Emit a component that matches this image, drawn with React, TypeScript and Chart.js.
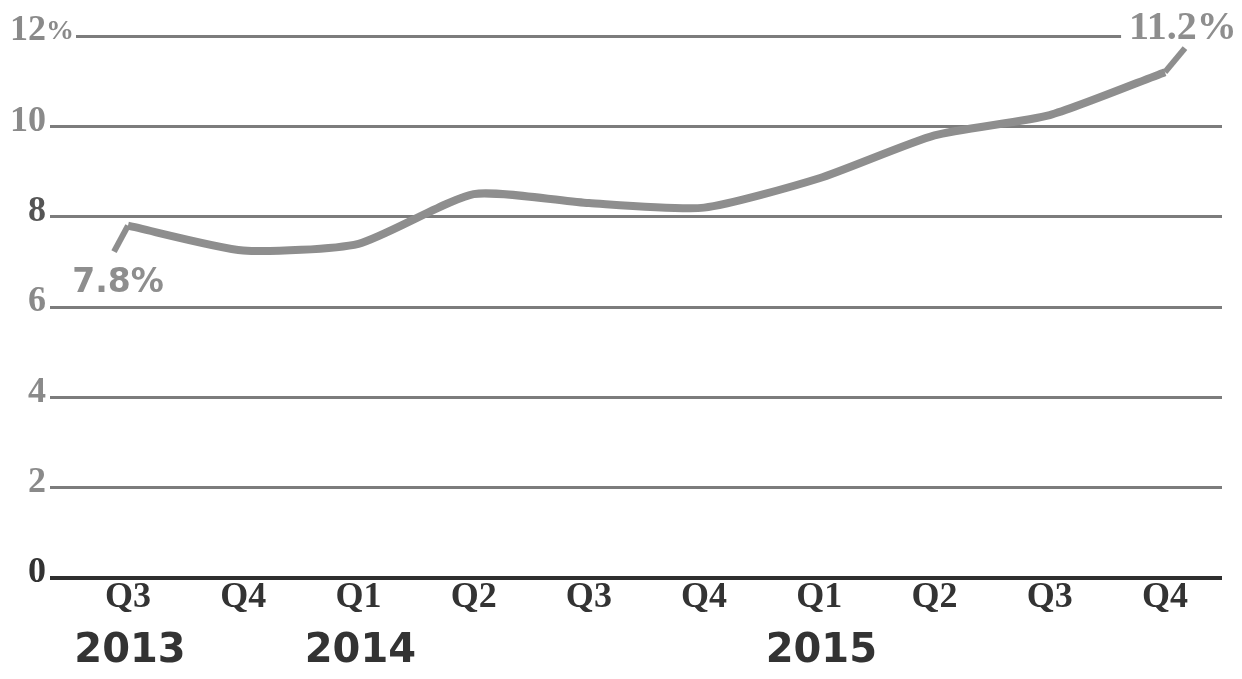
import React, { useEffect, useRef } from "react";
import { Chart, registerables } from "chart.js";

Chart.register(...registerables);

// ---- data ----
const QUARTERS = ["Q3", "Q4", "Q1", "Q2", "Q3", "Q4", "Q1", "Q2", "Q3", "Q4"];
const RATES = [7.8, 7.25, 7.4, 8.5, 8.3, 8.2, 8.85, 9.8, 10.25, 11.2];
const YEAR_LABELS = ["2013", "2014", "2015"];
const YEAR_INDEX = [0, 2, 6];
const Y_TICKS = [0, 2, 4, 6, 8, 10, 12];
const Y_TICK_LABELS = ["0", "2", "4", "6", "8", "10", "12%"];
const FIRST_LABEL = "7.8%";
const LAST_LABEL = "11.2%";

const LINE_COLOR = "#8e8e8e";
const GRID_COLOR = "#7c7c7c";
const ZERO_COLOR = "#2e2e2e";

const labelsPlugin = {
  id: "labelsPlugin",
  afterDraw(chart: any) {
    const ctx = chart.ctx;
    const xs = chart.scales.x;
    const ys = chart.scales.y;
    ctx.save();

    // y tick labels
    ctx.textBaseline = "middle";
    Y_TICKS.forEach((v, i) => {
      const y = ys.getPixelForValue(v) - 5;
      const txt = Y_TICK_LABELS[i];
      ctx.font = 'bold 36px "Liberation Serif", serif';
      ctx.fillStyle = v === 0 ? "#333333" : v === 8 ? "#555555" : "#8a8a8a";
      if (txt.endsWith("%")) {
        ctx.fillStyle = "#ffffff";
        ctx.fillRect(chart.chartArea.left - 2, y - 6, 28, 16);
        ctx.fillStyle = "#8a8a8a";
        ctx.textAlign = "right";
        ctx.fillText(txt.slice(0, -1), 46, y);
        ctx.textAlign = "left";
        ctx.font = 'bold 28px "Liberation Serif", serif';
        ctx.fillText("%", 46, y + 1);
      } else {
        ctx.textAlign = "right";
        ctx.fillText(txt, 46, y);
      }
    });

    // year labels
    ctx.font = 'bold 40px "DejaVu Sans", sans-serif';
    ctx.fillStyle = "#333333";
    ctx.textAlign = "center";
    YEAR_INDEX.forEach((idx, i) => {
      const x = xs.getPixelForValue(idx) + 2;
      ctx.fillText(YEAR_LABELS[i], x, 652);
    });

    // callouts
    const n = RATES.length;
    const p0x = xs.getPixelForValue(0);
    const p0y = ys.getPixelForValue(RATES[0]);
    const pnx = xs.getPixelForValue(n - 1);
    const pny = ys.getPixelForValue(RATES[n - 1]);

    ctx.strokeStyle = LINE_COLOR;
    ctx.lineWidth = 6;
    ctx.lineCap = "butt";
    ctx.beginPath();
    ctx.moveTo(p0x, p0y);
    ctx.lineTo(p0x - 14, p0y + 26);
    ctx.stroke();
    ctx.beginPath();
    ctx.moveTo(pnx, pny);
    ctx.lineTo(pnx + 20, pny - 24);
    ctx.stroke();

    ctx.font = 'bold 33px "DejaVu Sans", sans-serif';
    ctx.fillStyle = LINE_COLOR;
    ctx.textAlign = "center";
    ctx.fillText(FIRST_LABEL, p0x - 10, p0y + 58);

    ctx.font = 'bold 40px "Liberation Serif", serif';
    const w = ctx.measureText(LAST_LABEL).width;
    const lx = pnx + 18;
    const ly = pny - 43;
    ctx.fillStyle = "#ffffff";
    ctx.fillRect(lx - w / 2 - 8, ly - 16, w + 16, 30);
    ctx.fillStyle = LINE_COLOR;
    ctx.fillText(LAST_LABEL, lx, ly);

    ctx.restore();
  },
};

export default function App() {
  const ref = useRef<HTMLCanvasElement | null>(null);

  useEffect(() => {
    if (!ref.current) return;
    const chart = new Chart(ref.current, {
      type: "line",
      data: {
        datasets: [
          {
            data: RATES.map((v, i) => ({ x: i, y: v })),
            borderColor: LINE_COLOR,
            borderWidth: 8,
            pointRadius: 0,
            tension: 0.2,
            fill: false,
          },
        ],
      },
      options: {
        animation: false,
        responsive: false,
        events: [],
        layout: { padding: { top: 36, right: 20, bottom: 0, left: 0 } },
        plugins: {
          legend: { display: false },
          tooltip: { enabled: false },
        },
        scales: {
          x: {
            type: "linear",
            min: -0.677,
            max: 9.495,
            afterFit(s: any) {
              s.height = 101;
            },
            afterBuildTicks(s: any) {
              s.ticks = QUARTERS.map((_, i) => ({ value: i }));
            },
            grid: { display: false, drawTicks: false },
            border: { display: false },
            ticks: {
              autoSkip: false,
              maxRotation: 0,
              padding: -2,
              color: "#333333",
              font: { family: '"Liberation Serif", serif', size: 36, weight: "bold" },
              callback: (v: any) => QUARTERS[Math.round(Number(v))] ?? "",
            },
          },
          y: {
            min: 0,
            max: 12,
            afterFit(s: any) {
              s.width = 50;
            },
            afterBuildTicks(s: any) {
              s.ticks = Y_TICKS.map((v) => ({ value: v }));
            },
            border: { display: false },
            grid: {
              drawTicks: false,
              color: (c: any) => (c.tick && c.tick.value === 0 ? ZERO_COLOR : GRID_COLOR),
              lineWidth: (c: any) => (c.tick && c.tick.value === 0 ? 4 : 3),
            },
            ticks: { display: false },
          },
        },
      },
      plugins: [labelsPlugin],
    });
    return () => chart.destroy();
  }, []);

  return (
    <div style={{ position: "absolute", left: 0, top: 0, width: 1242, height: 679, background: "#ffffff" }}>
      <canvas ref={ref} width={1242} height={679} style={{ display: "block", width: 1242, height: 679 }} />
    </div>
  );
}
